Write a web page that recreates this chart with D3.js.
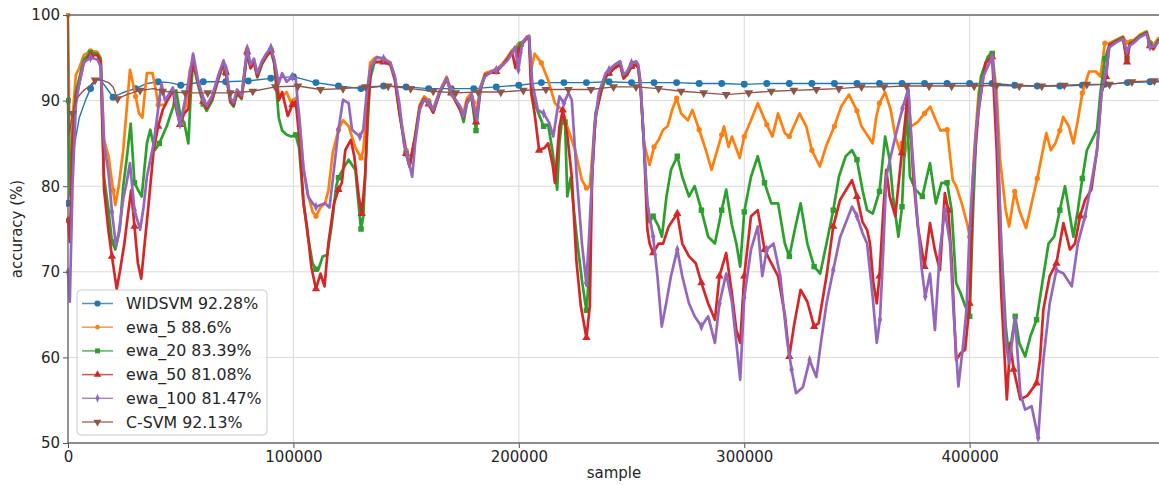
<!DOCTYPE html>
<html>
<head>
<meta charset="utf-8">
<script src="https://cdn.jsdelivr.net/npm/d3@7"></script>
<style>
  body { margin: 0; background: #fff; }
  text { font-family: "DejaVu Sans", sans-serif; fill: #262626; }
</style>
</head>
<body>
<div id="wrapper"></div>
<script>
// values: [sample (thousands), accuracy %]
const widsvm = [[0,78],[1,80],[3,85],[5,88],[8,90.2],[10,91.4],[12,92.3],[14,92.6],[17,91.5],[20,90.4],[25,91],[30,91.4],[35,92],[40,92.2],[45,92.1],[50,91.8],[60,92.2],[70,92.2],[80,92.3],[90,92.6],[100,92.8],[110,92.1],[120,91.7],[130,91.4],[140,91.7],[150,91.6],[160,91.4],[170,91.4],[180,91.4],[190,91.6],[200,91.8],[210,92.1],[220,92.1],[230,92.1],[240,92.2],[250,92.1],[260,92.1],[270,92.1],[280,92],[290,92],[300,91.9],[310,92],[320,92],[330,92],[340,92],[350,92],[360,92],[370,92],[380,92],[390,92],[400,92],[410,92],[420,91.8],[430,91.7],[440,91.7],[450,91.8],[460,91.9],[470,92.1],[480,92.2],[484,92.2]]

const ewa5 = [[0,100],[0.8,83],[2,88],[3.5,93],[5,93.8],[7,95.3],[10,95.8],[13,95.7],[14.5,95],[16,85.4],[18,83.5],[20,79.5],[21,77.8],[22.5,80],[24.5,84.2],[26,88.9],[27.5,93.6],[30,90.5],[31.5,88.5],[33,88],[35,93.2],[37.5,93.2],[39,91.2],[40,89.5],[43,89.5],[46.5,91.5],[48,89.5],[50,87.5],[52,89],[54,93.5],[55.5,94.8],[57.5,92.5],[60,90],[61.5,89.3],[64,90.5],[67,93],[69,94.5],[70,93.5],[72,90.2],[73.5,89.7],[75,91.2],[77,90.5],[79.5,95.9],[81,94],[82.5,94.7],[84,93],[86,94.4],[88,95.3],[90,96],[91.5,94.7],[93.5,90.8],[95,90.5],[97,91],[99,89.7],[100,90],[101,90.3],[102.5,88.5],[104.5,82],[106.5,79],[108.5,77],[110,76.5],[112,77.5],[114,78],[115.5,79.5],[117.5,84],[120,86.6],[122,87.7],[124.5,87],[127.5,84.5],[130,83.3],[131,84.2],[132.5,88.9],[134,94.4],[136,95],[140,94.9],[143,94.5],[145,92.8],[147,88.9],[150,84.2],[151.5,82.3],[154,86],[156,89.5],[158,90.5],[160,90],[162,89],[165,91.2],[168,92.8],[170,91.2],[172,90],[174,89.3],[175.5,88.6],[177,90.3],[179,90.9],[180,89.8],[181,88.3],[183,91.6],[185,93.2],[188,93.5],[190,93.6],[193,94.4],[195,95.1],[197,95.9],[199,96.3],[200,96.5],[201,96.7],[203.5,97.4],[204.5,97.6],[205.5,93.6],[207,95.5],[210,94.4],[213,92.4],[216,89.7],[219,89],[220,88],[222,86.6],[225,84.2],[228,80.7],[230,79.8],[231.5,80],[233,85],[234.5,88.9],[236.5,91.6],[239,93.2],[240,93.4],[242.5,94],[245,94.4],[246.5,92.8],[248,93.3],[250,94.2],[252,94.4],[253,94],[254,92],[255.5,85],[257,83.5],[258,82.5],[260,84.6],[262,85.4],[264,86.6],[266,87],[268,88.9],[270,90.3],[272,88.5],[275,87.7],[277,88.9],[280,86.6],[283,84.2],[285.5,81.9],[288,84.2],[290,86],[291,87],[293,84.6],[294.5,85.8],[298,83.3],[300,85.8],[303,87.7],[306,89.7],[310,87.2],[312.5,85.8],[315,88.5],[318,86.2],[320,85.8],[324.5,88.5],[327.5,87],[330,84.2],[333.5,82.3],[336.5,84.8],[340,87],[343,89.3],[346.5,90.7],[350,88.8],[352,87],[355,85.8],[357,85],[358.5,88],[360,89.7],[362.5,91],[365,88.9],[367,85.8],[369,84.2],[370,85],[371,83.5],[374,87],[377,87.5],[380,88.5],[382.5,89.3],[385,87.7],[387,86.5],[390,86.6],[392.5,80.7],[394,80],[396.5,78],[399,75.5],[400,74.1],[402,84],[404,91],[406,93.5],[409,95.5],[410,95.5],[412,90.9],[413.5,83.1],[416,77.2],[417.5,75.3],[420,79.4],[422,77.2],[425,75.1],[427.5,78],[430,80.9],[434,86.2],[436,84.2],[438,85],[440,86.5],[441.5,88.1],[444,87],[446,85],[448,87.7],[450,90.9],[453,93.4],[456,93.4],[458,92.8],[460,96.7],[462,96.7],[465,97.1],[468,97.5],[469.5,96.8],[471,97],[473,97.1],[475.5,97.7],[478.5,98.1],[480,96.8],[481.5,96.5],[484,97.4]]

const ewa20 = [[0,90],[0.8,79],[2,86],[3.5,91],[5,92.6],[7,94.8],[10,95.6],[13,95.5],[14.5,94.8],[16,81],[18,77.2],[19.5,73.5],[21,72.6],[23,75],[24.5,80],[26,83.1],[27.8,87.3],[29.5,80.4],[31,79.6],[32.7,78.8],[35,85],[36.5,86.6],[38.5,84.2],[40.5,85],[43.8,87],[46.7,89.3],[48,91.2],[50,88],[51.5,87.5],[53.4,85],[54.5,91],[55.5,94.5],[57.5,92],[60,89.6],[61.5,88.8],[64,90],[67,92.8],[69,94.2],[70,93.2],[72,89.8],[73.5,89.3],[75,90.8],[77,90.2],[79.5,95.5],[81,93.8],[82.5,94.5],[84,92.7],[86,94.2],[88,95.1],[90,95.8],[91.5,94.3],[93.5,88],[95,86.5],[97,86],[99,85.8],[101,86],[102.5,84.5],[104.5,78],[106.5,74],[108.5,71],[110,70.3],[111,70.2],[113,71.8],[115,72],[117,75.5],[119,80],[120,81],[122,82],[124.5,83.1],[127.5,81.9],[128.5,79],[130,75],[131,76.5],[132.5,85],[134,92.5],[136,94.5],[140,94.6],[143,94.3],[145,92.6],[147,88.6],[150,83.8],[151.5,82.5],[154,85.7],[156,89.2],[158,90.2],[160,89.7],[162,88.6],[165,91],[168,92.5],[170,90.9],[172,89.9],[174,88.9],[175.5,87.5],[177,89.7],[179,90.4],[181,86.5],[183,91.3],[185,93],[188,93.3],[190,93.4],[193,94.2],[195,94.9],[197,95.7],[199,96.1],[201,96.6],[203.5,97.3],[204.5,97.5],[206,90.5],[208,89],[211,87],[213,87.2],[215,84],[217,79.6],[218,85],[219.5,88.5],[220.5,87.5],[221.5,78.8],[223,81],[224.5,77],[226,73.3],[228,69],[229.5,66.3],[230,65.5],[231,69],[232.5,81.1],[234,88.5],[236.5,91],[239,93],[240,93.2],[242.5,93.8],[245,94.2],[246.5,92.6],[248,93],[250,94],[252,94.2],[253,93.8],[254,91.5],[255.5,85],[257,78],[258,75.8],[259.6,76.5],[262,75.3],[263.5,74.1],[265.5,78.8],[267.5,81.9],[270.3,83.5],[272.5,81.1],[275.5,78.8],[278,80],[281,77.2],[284,74.1],[287,73.3],[290,77.2],[292,79.6],[294.5,75.5],[296.5,73.3],[298.2,70.6],[300,77],[303,81.1],[306,83.5],[309,80.4],[312,78],[315,78],[318,73.3],[320,71.8],[322.5,75],[325,78],[328,73.3],[331,70.6],[333.7,69.8],[336.5,73.3],[339.5,77.2],[342,81.1],[345,83.5],[347.8,84.2],[350,83.1],[352.5,79.5],[354.5,77.2],[357,76.8],[360,79.4],[362.5,85.8],[364.5,83.1],[366,78.8],[368.4,74.1],[370,77.6],[372,89.7],[373.5,81.1],[376,79.6],[379,78.8],[382.4,82.7],[385,78],[387.5,80.4],[390,80.4],[392,77.2],[394,68.7],[396,67.5],[398,66],[400,64.8],[401.5,77],[403,86.6],[405,92.8],[408,95.1],[410,95.5],[411.5,90.9],[414,73.3],[416,63.6],[417.5,60.1],[420.2,64.8],[422,61.7],[424.6,60.1],[427,62.5],[429.7,64.4],[432.7,69.5],[435,73.3],[437.5,74.1],[440,77.2],[442.3,80],[444.5,76.5],[446,74.1],[448,77.2],[450,80.9],[452,84.2],[455,85.8],[456.5,86.6],[458,90.9],[460,94.9],[462,96.5],[465,97],[468,97.4],[469.8,94.9],[471,96.7],[473,97],[475.5,97.6],[478.5,98],[480,96.6],[481.5,96.2],[484,97.2]]

const ewa50 = [[0,76],[0.8,73.5],[2,85],[3.5,90.5],[5,92],[7,94.4],[10,95.3],[13,95.3],[14.5,94.5],[16,79.6],[18,74.7],[19.5,71.8],[21.6,68],[23,70],[25,73.3],[26.5,76.5],[28,79.5],[29.5,75.3],[31,71],[32.5,69.2],[34,73.3],[35.5,77.2],[38,84.2],[40,87],[42,88.9],[43.5,89.7],[46.5,91.2],[48,89],[49.7,87.2],[51.5,88.5],[53.4,89],[54.5,92.5],[55.5,94.6],[57.5,92.3],[60,89.9],[61.5,89.1],[64,90.3],[67,92.8],[69,94.4],[70,93.3],[72,90],[73.5,89.5],[75,91],[77,90.3],[79.5,95.7],[81,93.8],[82.5,94.5],[84,92.8],[86,94.3],[88,95.2],[90,95.9],[91.5,94.5],[93.5,90],[95,91],[97.5,88.2],[99.5,89.5],[101,89.9],[102.5,86],[104.5,78],[106,75.3],[108,70.5],[110,68],[112,69.8],[113.8,68.3],[115.5,73.3],[118,78],[120,79.6],[121.5,80.4],[123,84.2],[125.5,85.4],[127,83.5],[129,78.8],[130.3,76.8],[131.8,81.1],[133,88.9],[134.5,94],[136,94.5],[140,94.5],[143,94.2],[145,92.4],[147,88.6],[150,83.8],[151.5,82.3],[154,85.7],[156,89.2],[158,90.2],[160,89.6],[162,88.6],[165,91],[168,92.6],[170,90.9],[172,89.9],[174,88.9],[175.5,88],[177,89.9],[179,90.5],[181,87.5],[183,91.3],[185,93],[188,93.3],[190,93.4],[193,94.2],[195,94.9],[197,95.7],[198.5,93.8],[200,95.8],[201.5,96.6],[203.5,97.3],[204.5,97.5],[205.5,90.9],[207,88.5],[209,84.2],[211.5,84.5],[213,85],[215,82.5],[216,80.4],[218,86.9],[219.5,88.9],[221.5,86],[223.5,81.1],[225.5,71.4],[227.5,66],[230,62.3],[231.5,66],[232.5,81.1],[234,88],[236,90.5],[237.5,92.4],[240,93.2],[242.5,93.8],[245,94.2],[246.5,92.6],[248,93],[250,94],[252,94.2],[253,93.8],[254,91.5],[255.5,85],[257,75],[258,73.3],[259.6,72.2],[262,73.3],[264,73.3],[266.5,75.3],[270.3,76.8],[272.5,73.3],[275.5,71.8],[278.5,71],[281,68.7],[284,66.3],[287,64.4],[289,69.5],[292,72.2],[294.5,67.5],[296.5,63.2],[298.2,61.7],[300,69.5],[303,76.5],[306,77.2],[309,72.6],[312,71],[315,69.5],[318,65],[320,60.1],[322,63.6],[325,67.9],[328,66.5],[331,63.6],[333,64],[336.5,69.5],[339.5,75.3],[342.5,78.4],[347.8,80.7],[350,78.8],[352.5,75.8],[354.5,74.9],[355.8,73.3],[357.3,68.7],[358.8,66.3],[360,69.5],[361.7,77.2],[363,81.9],[364.5,78.8],[367,76.5],[369.9,83.9],[372.8,91.2],[375,81.1],[377,75.3],[380,70.6],[382.4,75.7],[384.6,72.5],[386.8,70.2],[389,79.2],[390.5,77.2],[392,71.5],[394,59.7],[396,60.5],[398,60.9],[400,66.3],[401.5,81.1],[404,88.9],[407,94.4],[410,95.1],[412,84.2],[414,67.5],[416.5,55.1],[418,61.7],[419.5,58.6],[422.5,55.1],[425.5,55.5],[429.7,57],[431.2,59.7],[432.7,65.6],[435.5,69.5],[438.5,71],[441.6,75.7],[444.5,72.6],[446.7,73.3],[449,76.5],[451.2,78.4],[454,79.6],[456.5,84.2],[458.5,90.9],[460.5,92.8],[462,96.5],[465,96.9],[468,97.3],[469.8,94.5],[471,96.6],[473,96.9],[475.5,97.5],[478.5,97.9],[480,96.4],[481.5,96],[484,97.1]]

const ewa100 = [[0,70],[0.8,66.5],[2,80],[3.5,89.5],[5,92],[7,94.5],[10,95],[13,94.8],[14.5,94],[16,85],[18,81.5],[19.5,77],[21.3,73],[22.5,74.5],[24.5,78.5],[26,80.4],[27.5,82.7],[29.5,77.2],[32,74.9],[33.5,77.5],[35,81.1],[38,85],[39.5,88],[40.5,90.1],[41.5,92],[43,90],[46.5,91.5],[48,89.5],[49.7,87.2],[51.5,89.5],[53.4,92],[55.5,95.5],[57.5,92.6],[60,90.2],[61.5,89.4],[64,90.6],[67,93.2],[69,94.7],[70,93.8],[72,90.3],[73.5,89.8],[75,91.3],[77,90.6],[79.5,96.1],[81,94.2],[82.5,94.9],[84,93.2],[86,94.6],[88,95.5],[90,96.2],[91.5,94.8],[93.5,92],[95,93.2],[97,92.2],[99.5,92.8],[101,92.6],[102.5,88],[104.5,82],[106.5,78.8],[108.5,78],[110,77.6],[112,77.8],[114,78],[116,77.5],[118,82],[120,86.6],[122,90.1],[124.5,89.7],[126,86.6],[129.5,85.8],[131,86.6],[132.5,90.9],[134,93.6],[135.4,94.4],[137,95.1],[140,94.9],[143,94.4],[145,92.8],[147,89.7],[149,85],[150.5,83.5],[152,81.9],[152.7,81.1],[154,85],[156,88.9],[158,90.1],[160,89.7],[162,88.9],[165,91.2],[168,92.6],[170,90.9],[172,90.1],[174,89.3],[175.4,88.1],[177,89.7],[179,90.5],[181.3,87.7],[183,91.6],[185,92.8],[188,93.4],[190,93.6],[193,94.2],[195,94.7],[197,95.5],[198.3,96.3],[199.8,93.6],[201.5,96.7],[203.7,97.5],[204.5,97.5],[206,92],[208.5,88.9],[211,88.5],[213.5,87.4],[215.3,85.8],[218,90.5],[220,89.7],[222,90.9],[223.5,90.1],[225.7,81.1],[228,73.3],[229.9,68.7],[231,73.3],[232.5,81.1],[233.5,87],[235.5,90.9],[238.5,93.2],[240,93.6],[242.5,94.2],[245,94.6],[246.5,93],[248,93.4],[250,94.4],[252,94.6],[253,94.2],[254,92],[255.5,85],[257,78],[258,76.5],[259.6,74.1],[261.5,69.5],[263.4,63.6],[265.5,66.5],[267.5,69.5],[270.3,72.6],[272.5,69.5],[275.5,66.3],[278,64.8],[281,63.6],[284,64.8],[287,61.7],[289,66.3],[292,69.8],[294.5,66.5],[296.5,61.7],[298.2,57.4],[300,67],[303,72.6],[306,75.3],[308,69.5],[310,72.6],[313,73.3],[316,69.5],[319,62],[321,58.6],[323,55.8],[326,56.5],[329,59.7],[332,57.7],[334,61.7],[336.5,66.3],[339.5,70.2],[342.5,74],[347.8,77.6],[350,76.5],[352.5,74.5],[354.5,73.3],[357,67],[358.8,61.7],[360.2,64.4],[361.7,72.6],[363,81.1],[365,83.5],[367.5,86.3],[370.2,89.1],[372.8,91.4],[374.3,85],[376.5,77.2],[378.8,70.2],[380.3,67.1],[382.4,69.8],[384.6,63.2],[386.8,72.5],[389,77.2],[391.3,73.3],[392.8,65.6],[395,56.6],[397.2,61.7],[398.6,65.6],[400,75.1],[403,87],[406,92.8],[410,95.1],[412,88.9],[414,73.3],[416,61.7],[417.5,59.3],[420.2,64.4],[422.5,55.8],[424.6,53.9],[427.5,54.3],[430.4,50.6],[432.7,59.7],[435.5,66.3],[438.5,70.2],[441.6,69.8],[445.3,68.3],[448,73.3],[451.2,76.5],[454,80.4],[456.5,84.2],[458.5,90.9],[460.5,93.5],[462,96.2],[465,96.8],[468,97.2],[469.8,95.8],[471,96.4],[473,96.8],[475.5,97.4],[478.5,97.8],[480,96.3],[481.5,96.3],[484,96.9]]

const csvm = [[0,100],[0.5,86],[2,88.5],[4,90.3],[7,91.2],[10,91.8],[12,92.4],[15,92.4],[18,92.1],[20,91.6],[22,90.2],[26,90.7],[32,91.2],[38,91.4],[42,91.1],[52,90.9],[62,90.9],[72,90.9],[82,91.1],[92,91.6],[102,91.7],[112,91.3],[122,91.4],[132,91.6],[142,91.7],[152,91.4],[162,91.1],[172,90.9],[182,91],[192,91],[202,91.2],[212,91.3],[222,91.3],[232,91.3],[242,91.6],[252,91.6],[262,91.4],[272,91.1],[282,90.9],[292,90.7],[302,90.9],[312,91.1],[322,91.2],[332,91.3],[342,91.4],[352,91.6],[362,91.6],[372,91.7],[382,91.7],[392,91.7],[402,91.7],[412,91.8],[422,91.7],[432,91.7],[442,91.8],[452,91.9],[462,91.9],[472,92.2],[482,92.3],[484,92.3]]

const labels = ["WIDSVM 92.28%", "ewa_5 88.6%", "ewa_20 83.39%", "ewa_50 81.08%", "ewa_100 81.47%", "C-SVM 92.13%"]
const xTicks = [0, 100000, 200000, 300000, 400000]
const yTicks = [50, 60, 70, 80, 90, 100]

async function drawChart() {

    const sample = d => d[0] * 1000
    const accuracy = d => d[1]

    const series = [
        { name: labels[0], values: widsvm, color: "#1f77b4", marker: "circle", size: 38, width: 1.4, offset: 0 },
        { name: labels[1], values: ewa5, color: "#ff7f0e", marker: "circle", size: 22, width: 2.7, offset: 0 },
        { name: labels[2], values: ewa20, color: "#2ca02c", marker: "square", size: 30, width: 2.7, offset: 0 },
        { name: labels[3], values: ewa50, color: "#d62728", marker: "triangle", size: 30, width: 2.7, offset: 0 },
        { name: labels[4], values: ewa100, color: "#9467bd", marker: "diamond", size: 30, width: 2.7, offset: 0 },
        { name: labels[5], values: csvm, color: "#8c564b", marker: "triangleDown", size: 34, width: 1.4, offset: 2 },
    ]

    let dimensions = {
        width: 1159,
        height: 485,
        margin: { top: 15, right: 0, bottom: 42, left: 68 },
    }
    dimensions.boundedWidth = dimensions.width - dimensions.margin.left - dimensions.margin.right
    dimensions.boundedHeight = dimensions.height - dimensions.margin.top - dimensions.margin.bottom

    const wrapper = d3.select("#wrapper")
        .append("svg")
        .attr("width", dimensions.width)
        .attr("height", dimensions.height)

    const bounds = wrapper.append("g")
        .attr("transform", `translate(${dimensions.margin.left},${dimensions.margin.top})`)

    // scales
    const xScale = d3.scaleLinear()
        .domain([0, 484000])
        .range([0, dimensions.boundedWidth])

    const yScale = d3.scaleLinear()
        .domain([50, 100])
        .range([dimensions.boundedHeight, 0])

    wrapper.append("defs").append("clipPath")
        .attr("id", "plot-clip")
        .append("rect")
        .attr("x", -2).attr("y", -2)
        .attr("width", dimensions.boundedWidth + 4)
        .attr("height", dimensions.boundedHeight + 4)

    // grid
    const grid = bounds.append("g")
    grid.selectAll(".vgrid")
        .data(xTicks.filter(t => t > 0))
        .join("line")
        .attr("x1", d => xScale(d)).attr("x2", d => xScale(d))
        .attr("y1", 0).attr("y2", dimensions.boundedHeight)
        .attr("stroke", "#dadada").attr("stroke-width", 1)
    grid.selectAll(".hgrid")
        .data(yTicks.filter(t => t > 50 && t < 100))
        .join("line")
        .attr("x1", 0).attr("x2", dimensions.boundedWidth)
        .attr("y1", d => yScale(d)).attr("y2", d => yScale(d))
        .attr("stroke", "#dadada").attr("stroke-width", 1)

    const symbolFor = (type, size) => {
        if (type === "square") return d3.symbol(d3.symbolSquare, size)()
        if (type === "triangle") return d3.symbol(d3.symbolTriangle, size)()
        if (type === "triangleDown") return d3.symbol(d3.symbolTriangle, size)()
        if (type === "diamond") return d3.symbol(d3.symbolDiamond, size)()
        return d3.symbol(d3.symbolCircle, size)()
    }
    const symbolTransform = (type) => {
        if (type === "triangleDown") return " rotate(180)"
        if (type === "diamond") return " scale(0.75,1)"
        return ""
    }

    // markers sit on the data point nearest to every 10000 samples
    const markerPoints = (s) => {
        const bis = d3.bisector(d => d[0]).center
        const pts = []
        for (let t = s.offset; t <= 484; t += 10) {
            const d = s.values[bis(s.values, t)]
            if (Math.abs(d[0] - t) <= 1.6) pts.push(d)
        }
        return pts
    }

    const lineGenerator = d3.line()
        .x(d => xScale(sample(d)))
        .y(d => yScale(accuracy(d)))

    const plot = bounds.append("g").attr("clip-path", "url(#plot-clip)")

    series.forEach(s => {
        const g = plot.append("g")
        g.append("path")
            .attr("d", lineGenerator(s.values))
            .attr("fill", "none")
            .attr("stroke", s.color)
            .attr("stroke-width", s.width)
            .attr("stroke-linejoin", "round")

        g.selectAll("path.mark")
            .data(markerPoints(s))
            .join("path")
            .attr("class", "mark")
            .attr("d", symbolFor(s.marker, s.size))
            .attr("transform", d => `translate(${xScale(sample(d))},${yScale(accuracy(d))})${symbolTransform(s.marker)}`)
            .attr("fill", s.color)
    })

    // axes
    const xAxis = d3.axisBottom(xScale)
        .tickValues(xTicks)
        .tickFormat(d3.format("d"))
        .tickSize(5)
        .tickPadding(3.5)
    const yAxis = d3.axisLeft(yScale)
        .tickValues(yTicks)
        .tickSize(5)
        .tickPadding(3)

    const xAxisGroup = bounds.append("g")
        .attr("transform", `translate(0,${dimensions.boundedHeight})`)
        .call(xAxis)
    const yAxisGroup = bounds.append("g").call(yAxis)

    ;[xAxisGroup, yAxisGroup].forEach(g => {
        g.select(".domain").remove()
        g.selectAll(".tick line").attr("stroke", "#555").attr("stroke-width", 1)
        g.selectAll(".tick text").style("font-size", "15px").attr("fill", "#262626")
    })

    // spines
    const spines = bounds.append("g")
        .attr("stroke", "#666").attr("stroke-width", 1.4)
    spines.append("line").attr("x1", 0).attr("x2", 0).attr("y1", 0).attr("y2", dimensions.boundedHeight)
    spines.append("line").attr("x1", 0).attr("x2", dimensions.boundedWidth).attr("y1", dimensions.boundedHeight).attr("y2", dimensions.boundedHeight)
    spines.append("line").attr("x1", 0).attr("x2", dimensions.boundedWidth).attr("y1", 0).attr("y2", 0)

    // axis labels
    wrapper.append("text")
        .attr("x", 614).attr("y", 478)
        .attr("text-anchor", "middle")
        .style("font-size", "15px")
        .text("sample")

    wrapper.append("text")
        .attr("transform", `translate(22,${dimensions.margin.top + dimensions.boundedHeight / 2}) rotate(-90)`)
        .attr("text-anchor", "middle")
        .style("font-size", "15px")
        .text("accuracy (%)")

    // legend
    const legend = wrapper.append("g").attr("transform", "translate(77,290)")
    legend.append("rect")
        .attr("width", 190).attr("height", 145)
        .attr("rx", 4)
        .attr("fill", "#fff").attr("fill-opacity", 0.8)
        .attr("stroke", "#cccccc").attr("stroke-width", 1)

    const rows = legend.selectAll(".row")
        .data(series)
        .join("g")
        .attr("transform", (d, i) => `translate(0,${13.5 + i * 23.7})`)
    rows.append("line")
        .attr("x1", 5).attr("x2", 36)
        .attr("stroke", d => d.color).attr("stroke-width", 1.5)
        .attr("stroke-opacity", 0.8)
    rows.append("path")
        .attr("d", d => symbolFor(d.marker, d.size * 0.8))
        .attr("transform", d => `translate(20.5,0)${symbolTransform(d.marker)}`)
        .attr("fill", d => d.color)
    rows.append("text")
        .attr("x", 49).attr("dy", "0.35em")
        .style("font-size", "15.8px")
        .text(d => d.name)
}

drawChart()
</script>
</body>
</html>
